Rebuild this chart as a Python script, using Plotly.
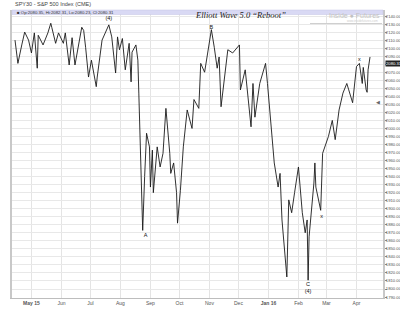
import plotly.graph_objects as go

# ---------------- data ----------------
dates = [
    "2015-04-14", "2015-04-17", "2015-04-21", "2015-04-24", "2015-04-28", "2015-05-01",
    "2015-05-04", "2015-05-07", "2015-05-08", "2015-05-13", "2015-05-18", "2015-05-21",
    "2015-05-22", "2015-05-26", "2015-05-29", "2015-06-03", "2015-06-05", "2015-06-09",
    "2015-06-12", "2015-06-15", "2015-06-22", "2015-06-24", "2015-06-26", "2015-06-29",
    "2015-07-02", "2015-07-07", "2015-07-08", "2015-07-13", "2015-07-20", "2015-07-23",
    "2015-07-27", "2015-07-29", "2015-07-31", "2015-08-03", "2015-08-06", "2015-08-10",
    "2015-08-12", "2015-08-13", "2015-08-17", "2015-08-19", "2015-08-20", "2015-08-21",
    "2015-08-24", "2015-08-26", "2015-08-28", "2015-08-31", "2015-09-01", "2015-09-03",
    "2015-09-04", "2015-09-08", "2015-09-11", "2015-09-14", "2015-09-17", "2015-09-21",
    "2015-09-22", "2015-09-25", "2015-09-28", "2015-09-29", "2015-10-02", "2015-10-05",
    "2015-10-07", "2015-10-09", "2015-10-14", "2015-10-16", "2015-10-21", "2015-10-23",
    "2015-10-27", "2015-10-30", "2015-11-03", "2015-11-06", "2015-11-09", "2015-11-11",
    "2015-11-13", "2015-11-20", "2015-11-25", "2015-12-02", "2015-12-03", "2015-12-08",
    "2015-12-14", "2015-12-16", "2015-12-18", "2015-12-23", "2015-12-29", "2015-12-31",
    "2016-01-04", "2016-01-07", "2016-01-11", "2016-01-13", "2016-01-15", "2016-01-20",
    "2016-01-22", "2016-01-25", "2016-01-28", "2016-02-01", "2016-02-05", "2016-02-08",
    "2016-02-10", "2016-02-11", "2016-02-12", "2016-02-17", "2016-02-18", "2016-02-19",
    "2016-02-24", "2016-02-26", "2016-03-03", "2016-03-07", "2016-03-10", "2016-03-14",
    "2016-03-18", "2016-03-22", "2016-03-24", "2016-03-28", "2016-04-01", "2016-04-04",
    "2016-04-07", "2016-04-08", "2016-04-11", "2016-04-12", "2016-04-13", "2016-04-15",
]
prices = [
    2110, 2081, 2104, 2120, 2110, 2094,
    2119, 2075, 2116, 2104, 2119, 2131,
    2126, 2106, 2119, 2106, 2119, 2079,
    2113, 2079, 2126, 2122, 2101, 2064,
    2085, 2052, 2064, 2110, 2129, 2114,
    2069, 2114, 2098, 2112, 2073, 2106,
    2058, 2095, 2104, 2085, 2044, 1998,
    1873, 1940, 1994, 1977, 1927, 1973,
    1920, 1977, 1952, 1969, 2025, 1969,
    1944, 1957, 1920, 1882, 1923, 1977,
    2002, 2023, 2000, 2036, 2025, 2081,
    2070, 2094, 2123, 2101, 2075, 2089,
    2027, 2098, 2094, 2104, 2048, 2073,
    2002, 2056, 2014, 2056, 2081, 2056,
    1998, 1957, 1927, 1944, 1886, 1815,
    1911, 1895, 1920, 1952, 1895, 1870,
    1886, 1811, 1865, 1932, 1957, 1927,
    1898, 1969, 1990, 2010, 1986, 2023,
    2044, 2056, 2048, 2032, 2077, 2081,
    2056, 2076, 2048, 2045, 2073, 2089,
]
assert len(dates) == len(prices)

month_ticks = ["2015-05-01", "2015-06-01", "2015-07-01", "2015-08-01", "2015-09-01",
               "2015-10-01", "2015-11-01", "2015-12-01", "2016-01-01", "2016-02-01",
               "2016-03-01", "2016-04-01"]
month_labels = ["<b>May 15</b>", "Jun", "Jul", "Aug", "Sep", "Oct", "Nov", "Dec",
                "<b>Jan 16</b>", "Feb", "Mar", "Apr"]
price_ticks = list(range(1790, 2141, 10))

wave_labels = ["(4)", "B", "A", "x", "C", "(4)", "x"]
wave_dates = ["2015-07-20", "2015-11-03", "2015-08-27", "2016-02-25", "2016-02-11",
              "2016-02-11", "2016-04-04"]
wave_prices = [2137, 2125, 1866, 1890, 1806, 1797, 2086]

title_text = "SPY30 - S&P 500 Index (CME)"
legend_text = "■ Op:2080.35, Hi:2082.31, Lo:2080.23, Cl:2080.31"
last_close = 2080.31

# ---------------- figure ----------------
W, H = 400, 313
L, R, T, B = 12, 17, 10, 15


def px(x):
    return (x - L) / (W - L - R)


def py(y):
    return (H - B - y) / (H - T - B)


# the tick under the last-close box shows no label of its own
price_ticktext = ["" if abs(v - last_close) < 5 else f"{v:.2f}" for v in price_ticks]

fig = go.Figure()
fig.add_trace(go.Scatter(x=dates, y=prices, mode="lines",
                         line=dict(color="#1a1a1a", width=0.9),
                         hoverinfo="skip", showlegend=False))

fig.add_trace(go.Scatter(x=wave_dates, y=wave_prices, mode="text", text=wave_labels,
                         textfont=dict(family="Liberation Sans", size=5.5, color="#111"),
                         hoverinfo="skip", showlegend=False))

fig.update_layout(
    width=W, height=H,
    margin=dict(l=L, r=R, t=T, b=B, autoexpand=False),
    paper_bgcolor="white", plot_bgcolor="white",
    showlegend=False,
    xaxis=dict(
        type="date",
        range=["2015-04-10 21:30", "2016-04-28 10:00"],
        tickvals=month_ticks, ticktext=month_labels,
        tickfont=dict(family="Liberation Sans", size=5, color="#555"),
        ticks="", ticklen=0,
        showgrid=True, gridcolor="#e4e4e4", gridwidth=1,
        showline=True, linecolor="#bdbdbd", linewidth=1, mirror=False,
        zeroline=False, fixedrange=True, automargin=False,
    ),
    yaxis=dict(
        side="right",
        range=[1788.8, 2147.5],
        tickvals=price_ticks, ticktext=price_ticktext,
        tickfont=dict(family="Liberation Sans", size=4.2, color="#555"),
        ticks="outside", ticklen=2, tickcolor="#888", ticklabelstandoff=-2,
        showgrid=True, gridcolor="#e8e8e8", gridwidth=1,
        showline=True, linecolor="#c8c8c8", linewidth=2, mirror=True,
        zeroline=False, fixedrange=True, automargin=False,
    ),
    shapes=[
        dict(type="rect", xref="paper", yref="paper", x0=0, x1=1, y0=py(14.5), y1=1,
             fillcolor="#d9d9f4", line=dict(color="#c4c4e4", width=0.5), layer="above"),
        dict(type="line", xref="paper", yref="paper", x0=px(310), x1=px(382),
             y0=py(23.5), y1=py(23.5), line=dict(color="#cfcfcf", width=1.2)),
    ],
    annotations=[
        dict(text=title_text, xref="paper", yref="paper", x=px(13), y=py(4.5),
             xanchor="left", yanchor="middle", showarrow=False,
             font=dict(family="Liberation Sans", size=5.5, color="#444")),
        dict(text=legend_text, xref="paper", yref="paper", x=px(15), y=py(12.2),
             xanchor="left", yanchor="middle", showarrow=False,
             font=dict(family="Liberation Sans", size=4.3, color="#333")),
        dict(text="<i>Elliott Wave 5.0 \u201cReboot\u201d</i>", xref="paper", yref="paper",
             x=px(193), y=py(15.5), xanchor="left", yanchor="middle", showarrow=False,
             font=dict(family="Liberation Serif", size=8.5, color="#222")),
        dict(text="Inside \u25cf Futures", xref="paper", yref="paper",
             x=px(382), y=py(15.5), xanchor="right", yanchor="middle", showarrow=False,
             font=dict(family="Liberation Sans", size=7, color="#c2c2c2")),
        dict(text="www.insidefutures.com", xref="paper", yref="paper",
             x=px(380), y=py(21.3), xanchor="right", yanchor="middle", showarrow=False,
             font=dict(family="Liberation Sans", size=3, color="#cccccc")),
        dict(text=f"{last_close:.2f}", xref="paper", yref="y", x=1, y=last_close,
             xanchor="left", yanchor="middle", xshift=2, showarrow=False,
             bgcolor="#222222", borderpad=0,
             font=dict(family="Liberation Sans", size=4.2, color="white")),
        dict(text="\u25c0", xref="paper", yref="y", x=1, y=2033,
             xanchor="right", yanchor="middle", xshift=-1, showarrow=False,
             font=dict(family="DejaVu Sans", size=5, color="#666")),
    ],
)

fig.write_html("out.html")
